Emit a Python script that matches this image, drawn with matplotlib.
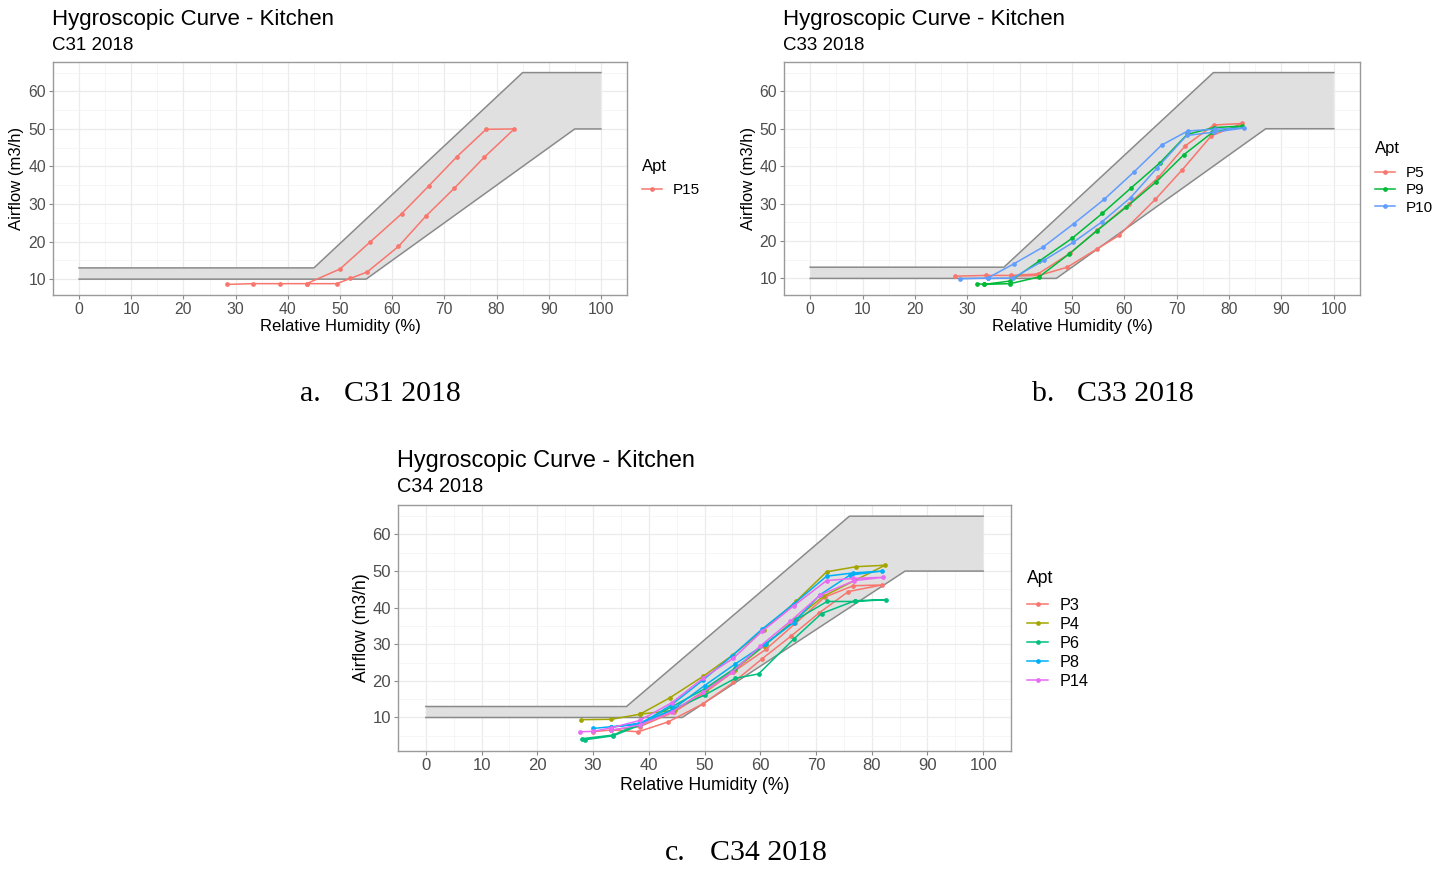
import matplotlib
matplotlib.use("Agg")
import matplotlib.pyplot as plt
import numpy as np

W, H = 1449, 869
plt.rcParams['font.family'] = ['Liberation Sans', 'DejaVu Sans']

# ---- reference band (upper / lower limit) ----
band_a_up_x = [0, 45, 85, 100]
band_a_lo_x = [0, 55, 95, 100]
band_b_up_x = [0, 37, 77, 100]
band_b_lo_x = [0, 47, 87, 100]
band_c_up_x = [0, 36, 76, 100]
band_c_lo_x = [0, 46, 86, 100]
band_up_y = [13, 13, 65, 65]
band_lo_y = [10, 10, 50, 50]

# ---- C31 2018 ----
c31_apts = ["P15"]
c31_rh = [
    [28.3, 33.3, 38.5, 43.6, 50.0, 55.7, 61.8, 67.0, 72.4, 78.0, 83.4,
     77.6, 71.9, 66.4, 61.2, 55.2, 52.0, 49.4, 43.6],
]
c31_flow = [
    [8.6, 8.8, 8.8, 8.8, 12.7, 19.8, 27.4, 34.8, 42.6, 49.9, 50.0,
     42.4, 34.2, 26.7, 18.7, 11.9, 10.2, 8.8, 8.8],
]

# ---- C33 2018 ----
c33_apts = ["P5", "P9", "P10"]
c33_rh = [
    [27.7, 33.5, 38.4, 43.5, 49.6, 54.8, 60.8, 66.5, 71.6, 77.1, 82.5,
     76.6, 71.1, 65.9, 59.0, 54.8, 49.1, 43.7, 38.4],
    [31.9, 33.1, 38.2, 43.7, 50.0, 55.8, 61.3, 66.8, 72.0, 77.1, 82.4,
     76.8, 71.4, 66.0, 60.4, 54.8, 49.5, 43.7, 38.2, 33.1],
    [28.6, 33.9, 38.9, 44.5, 50.3, 56.2, 61.8, 67.1, 72.1, 77.4, 82.9,
     77.2, 71.9, 66.3, 61.2, 55.8, 50.2, 44.6, 38.7, 33.9],
]
c33_flow = [
    [10.6, 10.8, 10.8, 11.2, 16.7, 22.9, 29.8, 37.0, 45.4, 51.0, 51.4,
     48.1, 39.1, 31.1, 21.5, 17.9, 13.0, 10.8, 10.6],
    [8.6, 8.4, 9.3, 14.6, 20.7, 27.4, 34.2, 40.9, 48.5, 50.3, 50.7,
     49.0, 43.1, 35.7, 29.1, 22.8, 16.6, 10.4, 8.6, 8.4],
    [9.9, 10.1, 13.9, 18.4, 24.6, 31.2, 38.4, 45.6, 49.4, 49.9, 50.2,
     49.1, 48.2, 39.6, 31.6, 25.2, 19.6, 14.8, 10.1, 10.0],
]

# ---- C34 2018 ----
c34_apts = ["P3", "P4", "P6", "P8", "P14"]
c34_rh = [
    [30.0, 33.3, 38.1, 43.5, 49.8, 55.2, 60.3, 65.5, 70.6, 75.8, 81.8,
     76.7, 71.6, 66.3, 61.0, 55.2, 49.8, 44.5, 38.4, 33.3],
    [27.8, 33.3, 38.4, 43.8, 49.8, 55.2, 60.6, 66.4, 71.9, 77.2, 82.4,
     71.3, 66.0, 60.6, 55.4, 50.2, 44.7, 38.4],
    [28.0, 33.6, 38.4, 44.1, 50.0, 55.5, 61.0, 66.5, 72.0, 77.0, 82.6,
     77.0, 71.0, 66.0, 59.7, 55.5, 50.1, 44.1, 38.4, 33.6, 28.5],
    [30.0, 33.3, 38.4, 44.1, 49.8, 54.9, 60.3, 66.0, 71.9, 76.7, 81.8,
     76.1, 70.7, 66.0, 60.8, 55.5, 50.0, 44.1, 38.4, 33.3],
    [27.6, 30.0, 33.3, 38.4, 44.1, 49.8, 55.2, 60.3, 66.0, 71.9, 76.7, 82.1,
     76.9, 70.8, 65.4, 60.0, 54.9, 49.8, 44.1, 38.4, 33.3],
]
c34_flow = [
    [6.1, 6.6, 6.1, 8.8, 13.8, 19.6, 26.0, 32.2, 38.6, 44.4, 46.2,
     46.0, 42.9, 35.7, 28.6, 22.5, 16.5, 11.5, 7.5, 6.6],
    [9.4, 9.5, 10.9, 15.4, 21.3, 27.2, 34.0, 41.7, 49.8, 51.2, 51.6,
     43.1, 36.5, 29.5, 23.0, 17.5, 12.0, 10.9],
    [4.2, 5.2, 8.4, 12.9, 17.8, 23.5, 30.0, 36.8, 41.7, 41.7, 42.2,
     41.9, 38.4, 31.4, 21.9, 20.7, 16.2, 12.0, 7.9, 5.0, 3.9],
    [7.0, 7.5, 8.1, 13.5, 20.3, 26.8, 34.1, 41.0, 48.6, 49.5, 50.0,
     48.9, 43.5, 35.9, 30.0, 24.6, 18.7, 12.0, 8.5, 7.3],
    [6.1, 6.2, 7.2, 9.2, 14.0, 20.8, 26.2, 33.5, 40.5, 47.4, 48.0, 48.3,
     47.4, 43.5, 36.3, 29.5, 22.3, 17.0, 11.5, 8.0, 6.5],
]

hue = {
    1: ["#F8766D"],
    3: ["#F8766D", "#00BA38", "#619CFF"],
    5: ["#F8766D", "#A3A500", "#00BF7D", "#00B0F6", "#E76BF3"],
}


def fx(x):
    return x / W


def fy(y):
    return 1 - y / H


def panel(rect, up_x, lo_x, apts, rh, flow, title, sub, title_pos, ylab_x,
          xlab_y, leg_pos, leg_gap, title_gap, s=1.0):
    l, t, r, b = rect
    ax = fig.add_axes([fx(l), fy(b), fx(r - l), (b - t) / H])
    ax.set_facecolor("white")
    # grid
    for v in range(0, 101, 10):
        ax.axvline(v, color="#EBEBEB", lw=0.9, zorder=0)
    for v in range(5, 100, 10):
        ax.axvline(v, color="#F4F4F4", lw=0.6, zorder=0)
    allf = [v for f in flow for v in f] + band_up_y + band_lo_y
    lo, hi = min(allf), max(allf)
    pad = (hi - lo) * 0.05
    ylo, yhi = lo - pad, hi + pad
    for v in range(10, 61, 10):
        ax.axhline(v, color="#EBEBEB", lw=0.9, zorder=0)
    for v in range(5, 66, 10):
        if ylo < v < yhi:
            ax.axhline(v, color="#F4F4F4", lw=0.6, zorder=0)

    # band
    px = list(up_x) + list(lo_x[::-1])
    py = list(band_up_y) + list(band_lo_y[::-1])
    ax.fill(px, py, color="#E0E0E0", lw=0, zorder=1)
    ax.plot(up_x, band_up_y, color="#8A8A8A", lw=1.1, zorder=2)
    ax.plot(lo_x, band_lo_y, color="#8A8A8A", lw=1.1, zorder=2)

    cols = hue[len(apts)]
    for name, x, y, c in zip(apts, rh, flow, cols):
        ax.plot(x, y, color=c, lw=1.1, marker="o", ms=3.4, mew=0,
                label=name, zorder=3)

    ax.set_xlim(-5, 105)
    ax.set_ylim(ylo, yhi)
    ax.set_xticks(range(0, 101, 10))
    ax.set_yticks(range(10, 61, 10))
    ax.tick_params(labelsize=11.3 * s, labelcolor="#4D4D4D", color="#8A8A8A",
                   length=3, width=0.8, pad=2)
    for sp in ax.spines.values():
        sp.set_color("#9A9A9A")
        sp.set_linewidth(1.0)

    fig.text(fx(l - 1), fy(title_pos[0]), title, fontsize=16 * s, va="center",
             ha="left", color="black")
    fig.text(fx(l - 1), fy(title_pos[1]), sub, fontsize=13.5 * s, va="center",
             ha="left", color="black")
    fig.text(fx(ylab_x), fy((t + b) / 2), "Airflow (m3/h)", fontsize=12 * s,
             rotation=90, va="center", ha="center")
    fig.text(fx((l + r) / 2), fy(xlab_y), "Relative Humidity (%)",
             fontsize=12 * s, va="center", ha="center")

    leg = ax.legend(loc="upper left", bbox_to_anchor=(fx(leg_pos[0]), fy(leg_pos[1])),
                    bbox_transform=fig.transFigure, frameon=False, title="Apt",
                    fontsize=11 * s, title_fontsize=12 * s, alignment="left",
                    borderpad=0, borderaxespad=0, handlelength=1.3,
                    handletextpad=0.7, labelspacing=leg_gap, numpoints=1)
    leg._legend_box.sep = title_gap
    return ax


fig = plt.figure(figsize=(W / 100, H / 100), dpi=100)

panel((53, 62, 627, 295), band_a_up_x, band_a_lo_x, c31_apts, c31_rh, c31_flow,
      "Hygroscopic Curve - Kitchen", "C31 2018", (20, 45), 17, 326, (642, 159), 0.25, 6.5)
panel((784, 62, 1360, 295), band_b_up_x, band_b_lo_x, c33_apts, c33_rh, c33_flow,
      "Hygroscopic Curve - Kitchen", "C33 2018", (20, 45), 749, 326, (1375, 141), 0.2, 7.5)
panel((398, 505, 1011, 751), band_c_up_x, band_c_lo_x, c34_apts, c34_rh, c34_flow,
      "Hygroscopic Curve - Kitchen", "C34 2018", (461, 487), 361, 785, (1027, 570), 0.24, 8,
      s=1.06)

cap = dict(fontsize=21.5, family=["Liberation Serif", "DejaVu Serif"], va="center", ha="left")
fig.text(fx(300), fy(394), "a.", **cap)
fig.text(fx(344), fy(394), "C31 2018", **cap)
fig.text(fx(1032), fy(394), "b.", **cap)
fig.text(fx(1077), fy(394), "C33 2018", **cap)
fig.text(fx(665), fy(853), "c.", **cap)
fig.text(fx(710), fy(853), "C34 2018", **cap)

fig.savefig("out.png", dpi=100, facecolor="white")
